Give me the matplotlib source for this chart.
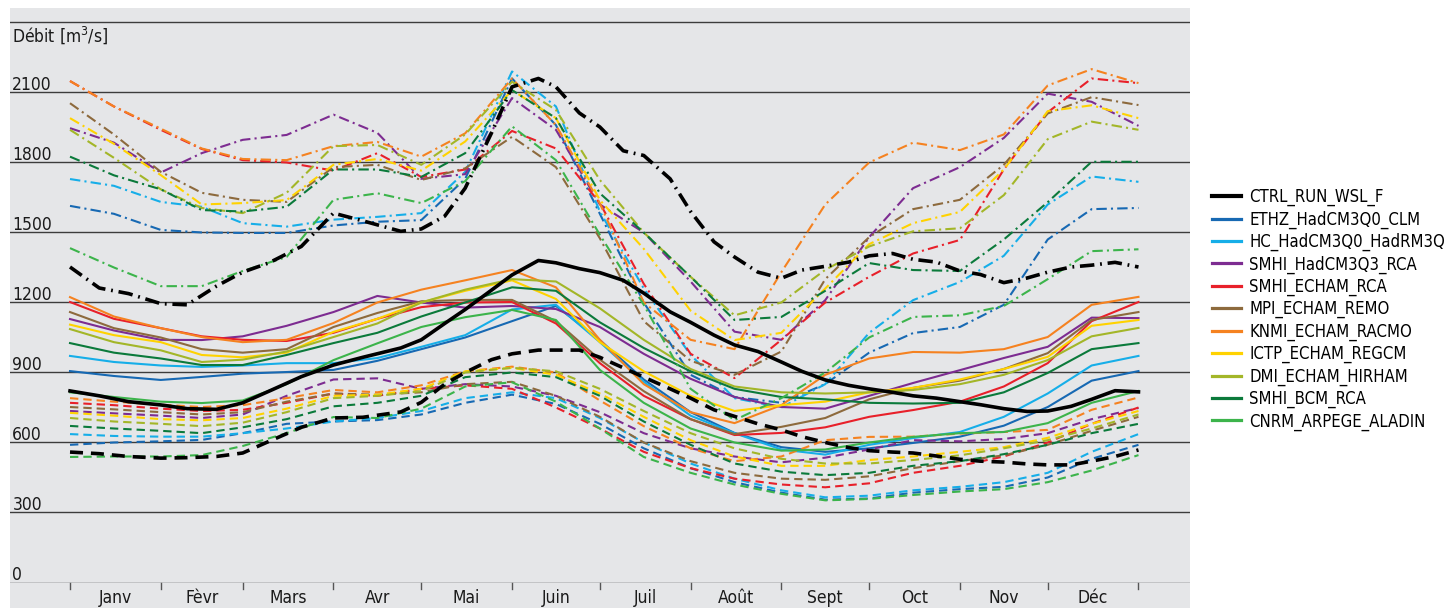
import matplotlib
matplotlib.use("Agg")
import matplotlib.pyplot as plt
from matplotlib.lines import Line2D
from matplotlib.patches import Rectangle
import matplotlib.transforms as mtransforms

plt.rcParams['font.family'] = ['DejaVu Sans']
plt.rcParams['font.stretch'] = 'condensed'

# day of year for each sample (model runs)
days = [0, 15, 31, 45, 59, 74, 90, 105, 120, 135, 151, 166, 181,
        196, 212, 227, 243, 258, 273, 288, 304, 319, 334, 349, 365]
# the control run is sampled more densely
ctrl_days = [0, 10, 20, 31, 40, 50, 59, 68, 79, 90, 100, 113, 120, 128, 135,
             144, 151, 160, 166, 174, 181, 189, 196, 205, 212, 220, 227, 235,
             243, 250, 258, 266, 273, 281, 288, 296, 304, 311, 319, 327, 334,
             342, 349, 357, 365]

month_starts = [0, 31, 59, 90, 120, 151, 181, 212, 243, 273, 304, 334, 365]
month_labels = ['Janv', 'Fèvr', 'Mars', 'Avr', 'Mai', 'Juin',
                'Juil', 'Août', 'Sept', 'Oct', 'Nov', 'Déc']
y_ticks = [0, 300, 600, 900, 1200, 1500, 1800, 2100]

# débit [m3/s] : solid / dash-dot / dashed per run
ctrl_solid = [821, 800, 775, 761, 745, 742, 770, 820, 882, 932, 965, 1005, 1040, 1110, 1170,
              1253, 1318, 1380, 1370, 1345, 1328, 1295, 1240, 1160, 1115, 1060, 1018, 990,
              945, 905, 868, 845, 830, 815, 800, 790, 775, 762, 745, 733, 735,
              755, 785, 822, 817]
ctrl_dashdot = [1352, 1262, 1238, 1195, 1190, 1270, 1330, 1370, 1440, 1583, 1550, 1505, 1515,
                1570, 1690, 1927, 2124, 2160, 2124, 2012, 1952, 1850, 1830, 1730, 1590, 1460,
                1395, 1330, 1304, 1339, 1355, 1373, 1400, 1410, 1385, 1373, 1335, 1320, 1285,
                1305, 1330, 1352, 1360, 1372, 1352]
ctrl_dashed = [559, 552, 540, 533, 535, 540, 555, 605, 665, 705, 708, 731, 772, 850, 900,
               955, 980, 996, 996, 996, 965, 920, 880, 830, 790, 740, 712, 680, 654,
               625, 600, 578, 565, 559, 555, 542, 528, 520, 516, 508, 504, 504, 520,
               540, 568]

ethz_solid = [906, 885, 868, 881, 895, 902, 911, 950, 1000, 1050, 1120, 1185, 1039,
              870, 730, 641, 580, 560, 575, 598, 625, 672, 752, 865, 906]
ethz_dashdot = [1614, 1580, 1511, 1500, 1498, 1498, 1530, 1546, 1553, 1730, 2160, 1960, 1580,
                1200, 890, 795, 770, 850, 985, 1069, 1095, 1190, 1470, 1600, 1605]
ethz_dashed = [590, 600, 605, 611, 640, 680, 690, 696, 720, 770, 805, 765, 680,
               575, 490, 430, 385, 355, 360, 385, 400, 410, 450, 530, 590]

hc_solid = [971, 945, 930, 924, 930, 940, 940, 962, 1010, 1060, 1170, 1190, 1030,
            860, 715, 640, 570, 548, 590, 619, 645, 710, 810, 930, 971]
hc_dashdot = [1729, 1700, 1631, 1610, 1540, 1525, 1555, 1567, 1583, 1760, 2190, 2040, 1590,
              1260, 975, 790, 750, 850, 1070, 1210, 1288, 1400, 1620, 1740, 1717]
hc_dashed = [636, 628, 625, 625, 640, 660, 690, 705, 735, 790, 815, 790, 705,
             600, 510, 445, 395, 365, 372, 395, 410, 430, 470, 560, 636]

smhi_q3_solid = [1129, 1080, 1040, 1039, 1055, 1100, 1159, 1228, 1200, 1178, 1185, 1172, 1095,
                 980, 873, 795, 752, 745, 800, 855, 910, 962, 1010, 1135, 1133]
smhi_q3_dashdot = [1947, 1885, 1757, 1840, 1897, 1918, 2005, 1927, 1730, 1750, 2076, 1940, 1620,
                   1500, 1290, 1075, 1040, 1210, 1480, 1690, 1780, 1905, 2095, 2060, 1957]
smhi_q3_dashed = [735, 725, 715, 705, 720, 800, 870, 875, 830, 850, 840, 800, 730,
                  640, 575, 540, 515, 535, 570, 610, 605, 615, 640, 700, 748]

smhi_echam_solid = [1202, 1130, 1090, 1055, 1040, 1035, 1070, 1130, 1180, 1200, 1202, 1110, 940,
                    800, 700, 632, 641, 665, 710, 739, 775, 840, 940, 1120, 1202]
smhi_echam_dashdot = [2149, 2040, 1940, 1858, 1810, 1800, 1765, 1840, 1738, 1770, 1935, 1860, 1626,
                      1280, 980, 876, 1040, 1200, 1310, 1410, 1468, 1770, 2015, 2160, 2140]
smhi_echam_dashed = [770, 760, 745, 735, 740, 770, 810, 800, 830, 845, 830, 750, 660,
                     560, 490, 445, 420, 408, 425, 470, 500, 540, 600, 680, 750]

mpi_solid = [1159, 1090, 1050, 1000, 985, 1000, 1095, 1155, 1205, 1211, 1211, 1120, 955,
             820, 700, 636, 667, 705, 785, 834, 865, 915, 983, 1125, 1159]
mpi_dashdot = [2054, 1920, 1760, 1670, 1640, 1631, 1780, 1790, 1725, 1775, 1910, 1780, 1475,
               1120, 950, 890, 990, 1300, 1480, 1600, 1640, 1790, 2010, 2080, 2046]
mpi_dashed = [752, 742, 730, 720, 730, 775, 810, 805, 815, 850, 860, 800, 710,
              600, 520, 470, 445, 440, 455, 490, 520, 545, 590, 650, 710]

knmi_solid = [1223, 1140, 1090, 1052, 1030, 1040, 1112, 1200, 1255, 1295, 1339, 1265, 1040,
              850, 730, 683, 760, 890, 960, 988, 985, 1000, 1052, 1190, 1224]
knmi_dashdot = [2149, 2040, 1945, 1860, 1815, 1810, 1870, 1888, 1825, 1925, 2160, 1960, 1625,
                1200, 1040, 1000, 1330, 1620, 1800, 1885, 1853, 1920, 2130, 2200, 2140]
knmi_dashed = [790, 775, 762, 752, 760, 790, 825, 815, 845, 905, 925, 900, 780,
               670, 575, 520, 540, 610, 624, 625, 638, 645, 654, 740, 793]

ictp_solid = [1105, 1060, 1030, 975, 965, 985, 1074, 1130, 1200, 1250, 1295, 1215, 1030,
              905, 800, 735, 760, 775, 815, 834, 870, 915, 967, 1100, 1125]
ictp_dashdot = [1990, 1880, 1746, 1620, 1626, 1639, 1790, 1815, 1765, 1890, 2110, 1990, 1639,
                1430, 1165, 1039, 1070, 1260, 1450, 1540, 1588, 1770, 2020, 2045, 1990]
ictp_dashed = [727, 715, 700, 695, 705, 745, 800, 805, 830, 905, 920, 890, 810,
               710, 610, 540, 500, 500, 525, 540, 560, 580, 620, 680, 735]

dmi_solid = [1086, 1030, 995, 945, 955, 990, 1052, 1110, 1200, 1255, 1300, 1290, 1175,
             1040, 915, 840, 815, 810, 815, 825, 850, 890, 953, 1055, 1091]
dmi_dashdot = [1940, 1820, 1685, 1605, 1583, 1670, 1870, 1875, 1790, 1920, 2146, 2025, 1725,
               1500, 1310, 1145, 1200, 1340, 1440, 1505, 1518, 1660, 1900, 1975, 1940]
dmi_dashed = [705, 690, 680, 670, 685, 730, 790, 800, 820, 900, 920, 905, 830,
              735, 640, 575, 530, 510, 510, 525, 545, 575, 610, 660, 720]

bcm_solid = [1026, 985, 960, 932, 932, 975, 1026, 1070, 1140, 1200, 1265, 1250, 1115,
             1005, 905, 830, 795, 785, 770, 767, 770, 815, 898, 1000, 1026]
bcm_dashdot = [1825, 1745, 1685, 1596, 1590, 1610, 1770, 1770, 1738, 1840, 2110, 1990, 1668,
               1500, 1310, 1125, 1138, 1250, 1369, 1339, 1335, 1470, 1630, 1803, 1803]
bcm_dashed = [671, 660, 650, 640, 665, 700, 755, 770, 800, 880, 900, 880, 800,
              690, 590, 510, 475, 460, 470, 500, 520, 550, 590, 640, 680]

cnrm_solid = [815, 795, 775, 769, 780, 850, 953, 1025, 1095, 1137, 1168, 1125, 911,
              770, 660, 600, 565, 570, 600, 624, 640, 645, 683, 770, 821]
cnrm_dashdot = [1433, 1350, 1270, 1270, 1335, 1395, 1640, 1668, 1626, 1720, 1955, 1810, 1490,
                1190, 830, 696, 790, 900, 1050, 1138, 1145, 1185, 1300, 1420, 1428]
cnrm_dashed = [538, 540, 540, 546, 585, 640, 709, 705, 745, 840, 858, 775, 660,
               538, 470, 420, 380, 352, 358, 375, 390, 400, 430, 480, 546]

runs = [
    ('CTRL_RUN_WSL_F', '#000000', ctrl_solid, ctrl_dashdot, ctrl_dashed),
    ('ETHZ_HadCM3Q0_CLM', '#1769b3', ethz_solid, ethz_dashdot, ethz_dashed),
    ('HC_HadCM3Q0_HadRM3Q', '#16aee8', hc_solid, hc_dashdot, hc_dashed),
    ('SMHI_HadCM3Q3_RCA', '#7d2c91', smhi_q3_solid, smhi_q3_dashdot, smhi_q3_dashed),
    ('SMHI_ECHAM_RCA', '#e8202a', smhi_echam_solid, smhi_echam_dashdot, smhi_echam_dashed),
    ('MPI_ECHAM_REMO', '#8d6a3d', mpi_solid, mpi_dashdot, mpi_dashed),
    ('KNMI_ECHAM_RACMO', '#f58220', knmi_solid, knmi_dashdot, knmi_dashed),
    ('ICTP_ECHAM_REGCM', '#ffd200', ictp_solid, ictp_dashdot, ictp_dashed),
    ('DMI_ECHAM_HIRHAM', '#a3b628', dmi_solid, dmi_dashdot, dmi_dashed),
    ('SMHI_BCM_RCA', '#0b7a3b', bcm_solid, bcm_dashdot, bcm_dashed),
    ('CNRM_ARPEGE_ALADIN', '#3cb44b', cnrm_solid, cnrm_dashdot, cnrm_dashed),
]

W, H = 1447, 608
fig = plt.figure(figsize=(W / 100, H / 100), dpi=100)
fig.patch.set_facecolor('white')

# grey panel behind plot and month labels
panel = Rectangle((10 / W, 0), 1180 / W, 600 / H, transform=fig.transFigure,
                  facecolor='#e5e6e8', edgecolor='none', zorder=-10)
fig.add_artist(panel)

ax = fig.add_axes([10 / W, 25.5 / H, 1180 / W, 574.5 / H])
ax.set_zorder(1)
ax.set_facecolor('none')
ax.set_xlim(-20.5, 382.6)
ax.set_ylim(0, 2462)
for s in ax.spines.values():
    s.set_visible(False)
ax.set_yticks([])
ax.set_xticks([])

for v in range(0, 2401, 300):
    ax.axhline(v, color='#3c3c3c', lw=1.0, zorder=1)

trans = mtransforms.blended_transform_factory(ax.transAxes, ax.transData)
for v in y_ticks:
    ax.text(0.002, v + 12, str(v), transform=trans, ha='left', va='baseline',
            fontsize=12.5, color='#1a1a1a')
ax.text(0.002, 2345, 'Débit [m$^3$/s]', transform=trans, ha='left', va='center',
        fontsize=12.5, color='#1a1a1a')

# month ticks below the zero line, labels centred in each month
xtrans = mtransforms.blended_transform_factory(ax.transData, ax.transAxes)
for d in month_starts:
    ax.plot([d, d], [0, -0.011], transform=xtrans, color='#555555', lw=1.0, clip_on=False)
for i, lab in enumerate(month_labels):
    mid = (month_starts[i] + month_starts[i + 1]) / 2
    ax.text(mid, -0.027, lab, transform=xtrans, ha='center', va='center',
            fontsize=12.5, color='#1a1a1a')

# coloured runs first, control run on top
for name, col, solid, dashdot, dashed in runs[1:] + runs[:1]:
    ctrl = name.startswith('CTRL')
    x = ctrl_days if ctrl else days
    lw = 2.6 if ctrl else 1.5
    z = 5 if ctrl else 3
    ax.plot(x, dashed, color=col, lw=lw, dashes=(3.6, 2.2) if ctrl else (4.0, 2.4), zorder=z)
    ax.plot(x, dashdot, color=col, lw=lw,
            dashes=(4.0, 1.6, 0.5, 1.6) if ctrl else (5.0, 2.0, 1.0, 2.0), zorder=z)
    ax.plot(x, solid, color=col, lw=lw, zorder=z)

handles = [Line2D([0], [0], color=r[1], lw=3.0 if i == 0 else 2.3)
           for i, r in enumerate(runs)]
labels = [r[0] for r in runs]
fig.legend(handles, labels, loc='upper left', bbox_to_anchor=(1212 / W, 1 - 188 / H),
           frameon=False, fontsize=12, handlelength=1.75, handletextpad=0.5,
           labelspacing=0.25, borderpad=0, borderaxespad=0)

fig.savefig('out.png', dpi=100, facecolor='white')
